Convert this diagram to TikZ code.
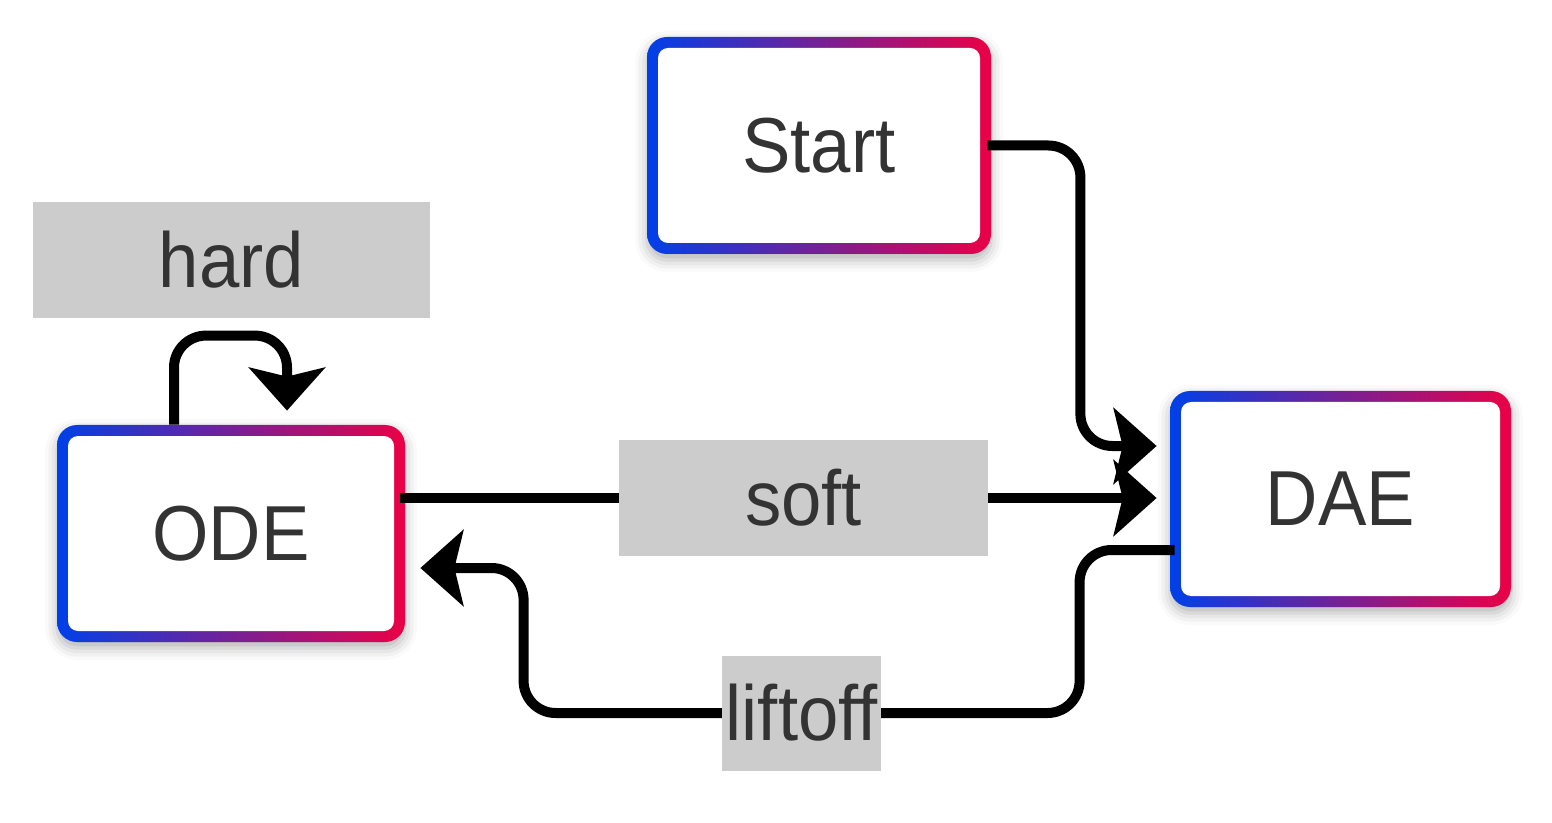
\documentclass[tikz,border=0pt]{standalone}
\usepackage{fontspec}
\setmainfont{Liberation Sans}
\usetikzlibrary{arrows.meta,shadows.blur}
\definecolor{cblue}{HTML}{0040E8}
\definecolor{cred}{HTML}{EB0046}
\definecolor{cgray}{HTML}{CCCCCC}
\definecolor{ctext}{HTML}{333333}
\newcommand{\lbltext}[1]{\scalebox{0.93}[1]{#1}}
\begin{document}
\begin{tikzpicture}[x=0.5pt,y=-0.5pt,
  box/.style={rectangle, rounded corners=10pt, inner sep=0pt,
    minimum width=172pt, minimum height=108.5pt,
    left color=cblue, right color=cred, text=ctext,
    font=\fontsize{39}{46}\selectfont,
    blur shadow={shadow xshift=0pt, shadow yshift=-3pt, shadow blur radius=6pt, shadow opacity=30},
    path picture={\fill[white, rounded corners=5pt]
      ([shift={(5.5pt,5.5pt)}]path picture bounding box.south west) rectangle
      ([shift={(-5.5pt,-5.5pt)}]path picture bounding box.north east);}},
  lbl/.style={rectangle, sharp corners, fill=cgray, inner sep=0pt, minimum height=58pt,
    text=ctext, font=\fontsize{39}{46}\selectfont},
  conn/.style={line width=5pt, rounded corners=16pt, draw=black,
    -{Stealth[length=21.5pt,width=38pt,inset=4.5pt]}}]
\useasboundingbox (0,0) rectangle (1552,823);

\node[box] (start) at (819,145.5) {\lbltext{Start}};
\node[box, minimum width=174pt] (ode) at (231,533.5) {\lbltext{ODE}};
\node[box, minimum width=170.5pt, minimum height=108pt] (dae) at (1340.5,499) {\lbltext{DAE}};

% Start -> DAE
\draw[conn] ([xshift=-2pt]start.east) -- ++(93,0) |- ([xshift=-6.5pt,yshift=26.5pt]dae.west);

% ODE -> DAE (soft)
\draw[conn] ([xshift=-2.5pt,yshift=17.75pt]ode.east) --
  node[lbl, minimum width=184.5pt, pos=0.533] (softlbl) {\lbltext{soft}}
  ([xshift=-6.5pt,yshift=0.5pt]dae.west);

% DAE -> ODE (liftoff)
\draw[conn] ([xshift=2.5pt,yshift=-25.5pt]dae.west) -- ++(-95,0) -- ++(0,163) --
  node[lbl, minimum width=79.5pt, minimum height=57.5pt, midway] (liftlbl) {\lbltext{liftoff}}
  ++(-556,0) |- ([xshift=7.5pt,yshift=-17.25pt]ode.east);

% ODE -> ODE (hard)
\draw[conn] ([xshift=-28.5pt]ode.north) -- ++(0,-89) -| ([xshift=28pt,yshift=7pt]ode.north);
\node[lbl, minimum width=198.5pt] (hardlbl) at (231.5,260) {\lbltext{hard}};
\end{tikzpicture}
\end{document}
